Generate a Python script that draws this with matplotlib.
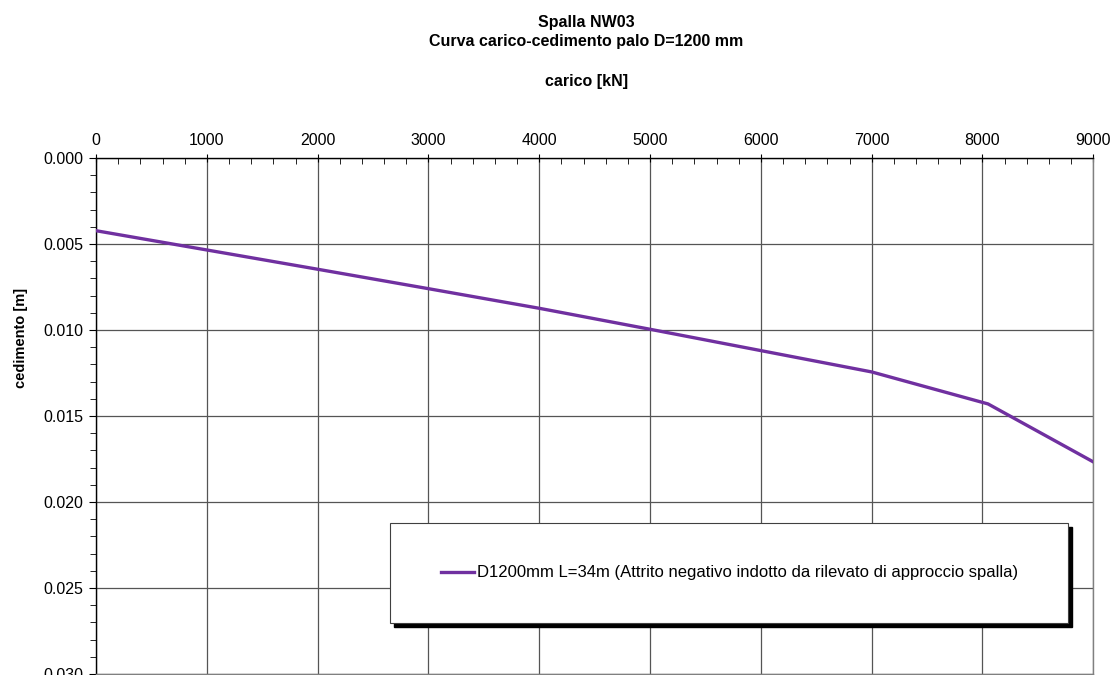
import matplotlib.pyplot as plt
from matplotlib.patches import Rectangle
import numpy as np

plt.rcParams['font.family'] = ['Liberation Sans', 'DejaVu Sans']

# load [kN] vs settlement [m]
carico = [0, 1000, 2000, 3000, 4000, 5000, 6000, 7000, 8050, 9000]
cedimento = [0.00423, 0.00535, 0.00647, 0.0076, 0.00874, 0.00996,
             0.0112, 0.01244, 0.0143, 0.01767]
serie_label = "D1200mm L=34m (Attrito negativo indotto da rilevato di approccio spalla)"

fig = plt.figure(figsize=(11.13, 6.75), dpi=100)
ax = fig.add_axes([0.0863, 0.0015, 0.8960, 0.7645])

ax.plot(carico, cedimento, color='#7030A0', lw=2.4, label=serie_label, zorder=5)

ax.set_xlim(0, 9000)
ax.set_ylim(0.030, 0.0)
ax.set_xticks(np.arange(0, 9001, 1000))
ax.set_xticks(np.arange(0, 9001, 200), minor=True)
ax.set_yticks(np.arange(0, 0.0301, 0.005))
ax.set_yticks(np.arange(0, 0.0301, 0.001), minor=True)
ax.set_yticklabels(['%.3f' % v for v in np.arange(0, 0.0301, 0.005)])

ax.xaxis.tick_top()
ax.tick_params(axis='x', which='major', direction='inout', length=6, labelsize=11.5, pad=4)
ax.tick_params(axis='x', which='minor', direction='in', length=4)
ax.tick_params(axis='y', which='major', direction='out', length=5, labelsize=11.5, pad=4)
ax.tick_params(axis='y', which='minor', direction='out', length=4)

ax.grid(True, which='major', color='#555555', lw=0.9)
ax.set_axisbelow(True)
for s in ['left', 'top']:
    ax.spines[s].set_color('black')
    ax.spines[s].set_linewidth(1.0)
for s in ['right', 'bottom']:
    ax.spines[s].set_color('#808080')
    ax.spines[s].set_linewidth(1.0)

# legend box with shadow
bx0, by0, bw, bh = 0.295, 0.099, 0.680, 0.194
shadow = Rectangle((bx0 + 0.004, by0 - 0.008), bw, bh, transform=ax.transAxes,
                   facecolor='black', edgecolor='black', zorder=6)
box = Rectangle((bx0, by0), bw, bh, transform=ax.transAxes,
                facecolor='white', edgecolor='#404040', lw=0.8, zorder=7)
ax.add_patch(shadow)
ax.add_patch(box)
leg = ax.legend(loc='center', bbox_to_anchor=(bx0 + bw / 2, by0 + bh / 2),
                frameon=False, fontsize=12, handlelength=2.0, handletextpad=0.15)
leg.set_zorder(8)

fig.text(0.527, 0.966, "Spalla NW03", ha='center', va='center',
         fontsize=11.5, fontweight='bold')
fig.text(0.527, 0.938, "Curva carico-cedimento palo D=1200 mm", ha='center',
         va='center', fontsize=11.5, fontweight='bold')
fig.text(0.527, 0.879, "carico [kN]", ha='center', va='center',
         fontsize=11.5, fontweight='bold')
fig.text(0.019, 0.5, "cedimento [m]", ha='center', va='center', rotation=90,
         fontsize=10.5, fontweight='bold')

fig.savefig("out.png", dpi=100)
